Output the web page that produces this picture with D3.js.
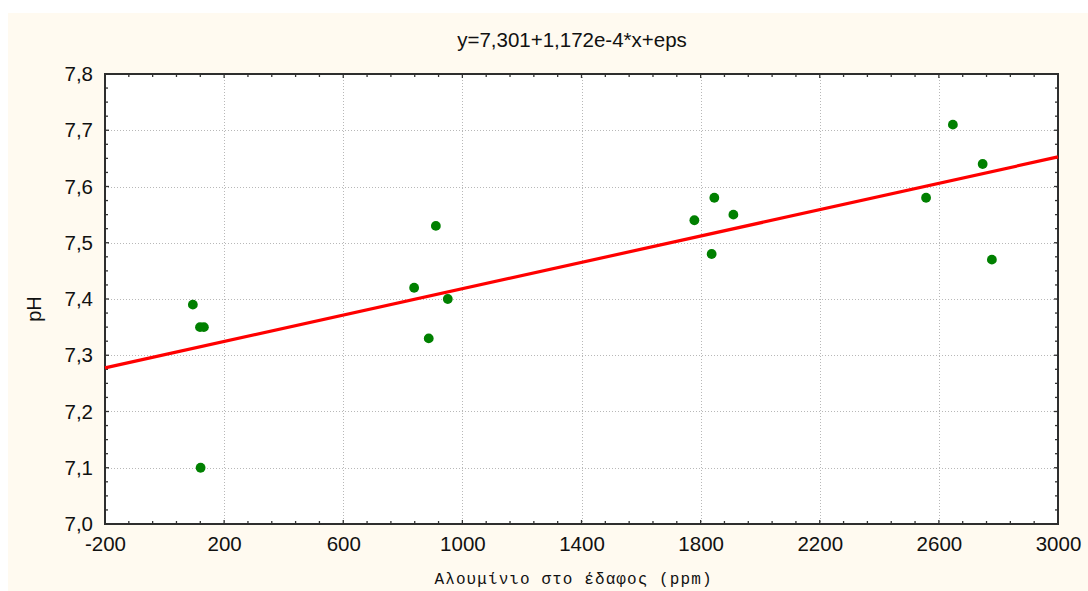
<!DOCTYPE html>
<html>
<head>
<meta charset="utf-8">
<script src="https://cdn.jsdelivr.net/npm/d3@7"></script>
<style>
  html, body { margin: 0; padding: 0; background: #ffffff; }
  svg { display: block; }
</style>
</head>
<body>
<svg id="chart" width="1088" height="591"></svg>
<script>
// Soil aluminium (ppm) against pH, with the fitted regression line
const aluminium = [95, 119, 132, 121, 838, 887, 911, 951, 1779, 1846, 1837, 1910, 2557, 2647, 2747, 2778];
const ph        = [7.39, 7.35, 7.35, 7.10, 7.42, 7.33, 7.53, 7.40, 7.54, 7.58, 7.48, 7.55, 7.58, 7.71, 7.64, 7.47];

const fitIntercept = 7.301;
const fitSlope = 1.172e-4;

const xTicks = [-200, 200, 600, 1000, 1400, 1800, 2200, 2600, 3000];
const yTicks = [7.0, 7.1, 7.2, 7.3, 7.4, 7.5, 7.6, 7.7, 7.8];
const xMinorStep = 80;
const yMinorStep = 0.025;

const titleText = "y=7,301+1,172e-4*x+eps";
const xTitle = "Αλουμίνιο στο έδαφος (ppm)";
const yTitle = "pH";

const W = 1088, H = 591;
const plot = { left: 105, top: 74, right: 1058, bottom: 524 };

const svg = d3.select("#chart");

// cream panel behind everything
svg.append("rect")
  .attr("x", 8).attr("y", 13)
  .attr("width", W - 8).attr("height", H - 13)
  .attr("fill", "#fffaf0");

const x = d3.scaleLinear().domain([-200, 3000]).range([plot.left, plot.right]);
const y = d3.scaleLinear().domain([7.0, 7.8]).range([plot.bottom, plot.top]);

svg.append("rect")
  .attr("x", plot.left).attr("y", plot.top)
  .attr("width", plot.right - plot.left).attr("height", plot.bottom - plot.top)
  .attr("fill", "#ffffff");

// dotted grid
const grid = svg.append("g").attr("stroke", "#b8b8b8").attr("stroke-width", 1)
  .attr("stroke-dasharray", "1,2");
grid.selectAll("line.gx").data(xTicks.slice(1, -1)).join("line")
  .attr("x1", d => Math.round(x(d)) + 0.5).attr("x2", d => Math.round(x(d)) + 0.5)
  .attr("y1", plot.top).attr("y2", plot.bottom);
grid.selectAll("line.gy").data(yTicks.slice(1, -1)).join("line")
  .attr("y1", d => Math.round(y(d)) + 0.5).attr("y2", d => Math.round(y(d)) + 0.5)
  .attr("x1", plot.left).attr("x2", plot.right);

// inward ticks on all four sides
const xMinor = d3.range(-200, 3000 + 1e-6, xMinorStep);
const yMinor = d3.range(0, 33).map(i => 7.0 + i * yMinorStep);
const isMajorX = v => xTicks.some(t => Math.abs(t - v) < 1e-6);
const isMajorY = v => yTicks.some(t => Math.abs(t - v) < 1e-6);
const ticks = svg.append("g").attr("stroke", "#333").attr("stroke-width", 1.3);
xMinor.forEach(v => {
  const len = isMajorX(v) ? 4 : 3;
  ticks.append("line").attr("x1", x(v)).attr("x2", x(v)).attr("y1", plot.bottom).attr("y2", plot.bottom - len);
  ticks.append("line").attr("x1", x(v)).attr("x2", x(v)).attr("y1", plot.top).attr("y2", plot.top + len);
});
yMinor.forEach(v => {
  const len = isMajorY(v) ? 4 : 3;
  ticks.append("line").attr("y1", y(v)).attr("y2", y(v)).attr("x1", plot.left).attr("x2", plot.left + len);
  ticks.append("line").attr("y1", y(v)).attr("y2", y(v)).attr("x1", plot.right).attr("x2", plot.right - len);
});

// frame
svg.append("rect")
  .attr("x", plot.left).attr("y", plot.top)
  .attr("width", plot.right - plot.left).attr("height", plot.bottom - plot.top)
  .attr("fill", "none").attr("stroke", "#2e2e2e").attr("stroke-width", 2);

// axis labels via d3 axes (lines hidden, only text kept)
const fmtY = d => d.toFixed(1).replace(".", ",");
const fmtX = d => String(d);
const xAxis = svg.append("g")
  .attr("transform", `translate(0,${plot.bottom})`)
  .call(d3.axisBottom(x).tickValues(xTicks).tickSize(0).tickPadding(22).tickFormat(fmtX));
const yAxis = svg.append("g")
  .attr("transform", `translate(${plot.left},0)`)
  .call(d3.axisLeft(y).tickValues(yTicks).tickSize(0).tickPadding(12).tickFormat(fmtY));
[xAxis, yAxis].forEach(g => {
  g.select(".domain").remove();
  g.selectAll("text")
    .attr("font-family", "'Liberation Sans', Arial, sans-serif")
    .attr("font-size", 20.5)
    .attr("fill", "#111");
});
xAxis.selectAll("text").attr("dy", "0.35em").attr("y", 20);

// regression line
const fit = v => fitIntercept + fitSlope * v;
svg.append("line")
  .attr("x1", x(-200)).attr("y1", y(fit(-200)))
  .attr("x2", x(3000)).attr("y2", y(fit(3000)))
  .attr("stroke", "#ff0000").attr("stroke-width", 3.2);

// observations
svg.append("g").selectAll("circle")
  .data(aluminium.map((a, i) => [a, ph[i]]))
  .join("circle")
  .attr("cx", d => x(d[0])).attr("cy", d => y(d[1]))
  .attr("r", 4.9)
  .attr("fill", "#008000");

// titles
svg.append("text")
  .attr("x", 572).attr("y", 47)
  .attr("text-anchor", "middle")
  .attr("font-family", "'Liberation Sans', Arial, sans-serif")
  .attr("font-size", 20.5)
  .attr("fill", "#111")
  .text(titleText);

svg.append("text")
  .attr("x", 573).attr("y", 584)
  .attr("text-anchor", "middle")
  .attr("font-family", "'Liberation Mono', 'Courier New', monospace")
  .attr("font-size", 16)
  .attr("textLength", 277)
  .attr("lengthAdjust", "spacing")
  .attr("fill", "#111")
  .text(xTitle);

svg.append("text")
  .attr("transform", "translate(41,309) rotate(-90)")
  .attr("text-anchor", "middle")
  .attr("font-family", "'Liberation Sans', Arial, sans-serif")
  .attr("font-size", 20)
  .attr("fill", "#111")
  .text(yTitle);
</script>
</body>
</html>
